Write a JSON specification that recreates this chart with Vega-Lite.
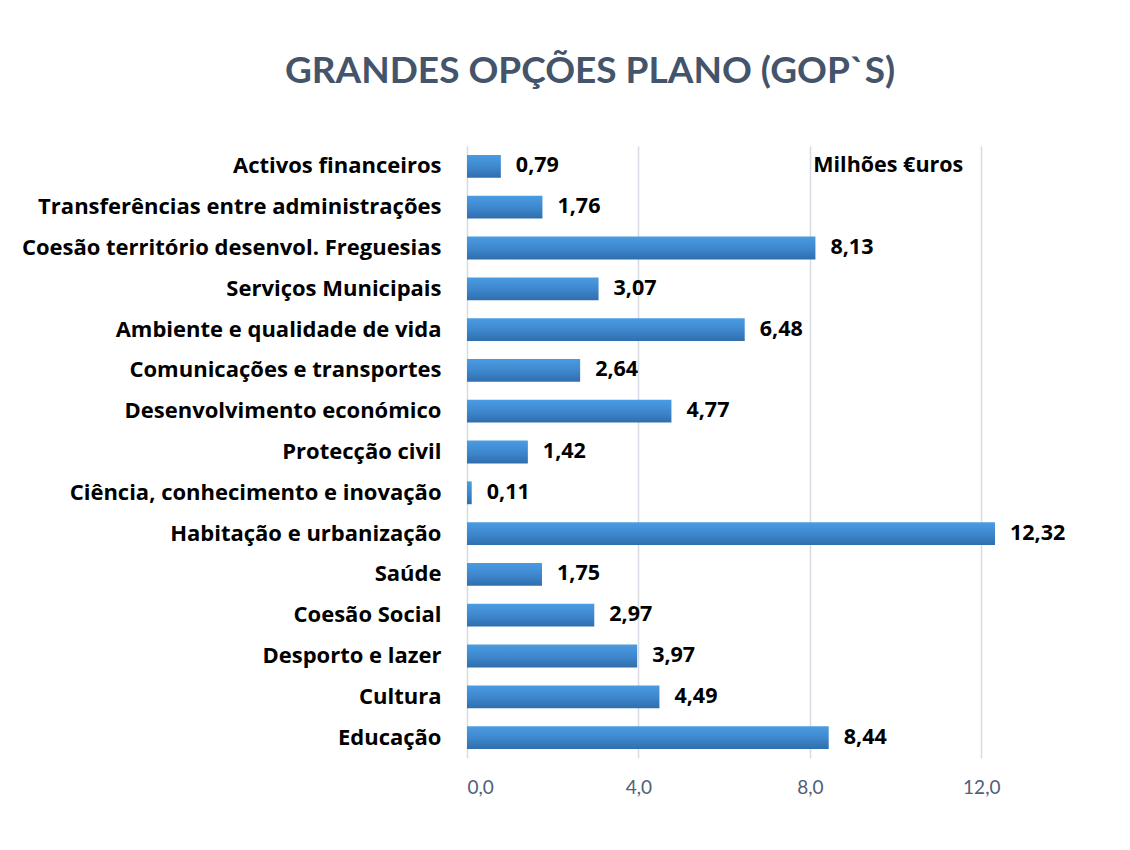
{
  "$schema": "https://vega.github.io/schema/vega-lite/v6.json",
  "autosize": "none",
  "width": 660,
  "height": 612,
  "padding": {"left": 467, "top": 146, "right": 3, "bottom": 92},
  "background": "white",
  "title": {
    "text": "GRANDES OPÇÕES PLANO (GOP`S)",
    "font": "Lato",
    "fontSize": 37,
    "fontWeight": "bold",
    "color": "#44546a",
    "anchor": "middle",
    "dx": -207,
    "offset": 55
  },
  "config": {
    "locale": {"number": {"decimal": ",", "thousands": ".", "grouping": [3], "currency": ["", " €"]}},
    "view": {"stroke": null}
  },
  "data": {
    "values": [
      {"area": "Activos financeiros", "valor": 0.79},
      {"area": "Transferências entre administrações", "valor": 1.76},
      {"area": "Coesão território desenvol. Freguesias", "valor": 8.13},
      {"area": "Serviços Municipais", "valor": 3.07},
      {"area": "Ambiente e qualidade de vida", "valor": 6.48},
      {"area": "Comunicações e transportes", "valor": 2.64},
      {"area": "Desenvolvimento económico", "valor": 4.77},
      {"area": "Protecção civil", "valor": 1.42},
      {"area": "Ciência, conhecimento e inovação", "valor": 0.11},
      {"area": "Habitação e urbanização", "valor": 12.32},
      {"area": "Saúde", "valor": 1.75},
      {"area": "Coesão Social", "valor": 2.97},
      {"area": "Desporto e lazer", "valor": 3.97},
      {"area": "Cultura", "valor": 4.49},
      {"area": "Educação", "valor": 8.44}
    ]
  },
  "encoding": {
    "y": {
      "field": "area",
      "type": "nominal",
      "sort": null,
      "scale": {"paddingInner": 0.44, "paddingOuter": 0.22},
      "axis": {
        "title": null,
        "ticks": false,
        "domain": false,
        "grid": false,
        "labelFont": "Open Sans",
        "labelFontSize": 22,
        "labelFontWeight": "bold",
        "labelColor": "#000000",
        "labelPadding": 26,
        "labelLimit": 500
      }
    },
    "x": {
      "field": "valor",
      "type": "quantitative",
      "scale": {"domain": [0, 15.4], "nice": false},
      "axis": {
        "title": null,
        "values": [0, 4, 8, 12],
        "format": ".1f",
        "ticks": false,
        "domain": false,
        "grid": true,
        "gridColor": "#d6dbe4",
        "gridWidth": 1.5,
        "labelFont": "Lato",
        "labelFontSize": 19,
        "labelColor": "#4f6078",
        "labelPadding": 20
      }
    }
  },
  "layer": [
    {
      "mark": {
        "type": "bar",
        "color": {
          "gradient": "linear",
          "x1": 0, "y1": 0, "x2": 0, "y2": 1,
          "stops": [
            {"offset": 0, "color": "#4a9ce2"},
            {"offset": 0.5, "color": "#3f88cf"},
            {"offset": 1, "color": "#2f6ead"}
          ]
        }
      }
    },
    {
      "mark": {
        "type": "text",
        "align": "left",
        "baseline": "middle",
        "dx": 15,
        "font": "Open Sans",
        "fontSize": 21.5,
        "fontWeight": "bold",
        "color": "#000000"
      },
      "encoding": {
        "text": {"field": "valor", "type": "quantitative", "format": ".2f"}
      }
    },
    {
      "data": {"values": [{"nota": "Milhões €uros", "area": "Activos financeiros", "pos": 8.08}]},
      "mark": {
        "type": "text",
        "align": "left",
        "baseline": "middle",
        "font": "Open Sans",
        "fontSize": 21.5,
        "fontWeight": "bold",
        "color": "#000000"
      },
      "encoding": {
        "x": {"field": "pos", "type": "quantitative"},
        "y": {"field": "area", "type": "nominal", "sort": null},
        "text": {"field": "nota", "type": "nominal"}
      }
    }
  ]
}
